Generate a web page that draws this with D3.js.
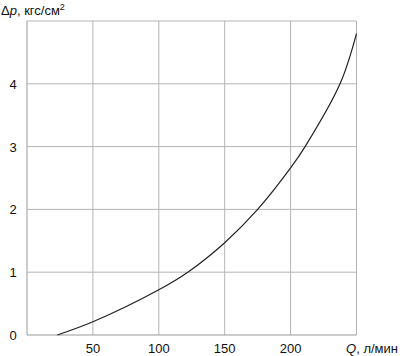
<!DOCTYPE html>
<html>
<head>
<meta charset="utf-8">
<script src="https://cdn.jsdelivr.net/npm/d3@7"></script>
<style>
  body { margin: 0; background: #fff; }
  svg text { font-family: "Liberation Sans", Arial, sans-serif; fill: #111; }
</style>
</head>
<body>
<svg id="chart" width="400" height="356"></svg>
<script>
// values
const flowQ = [23, 50, 100, 122, 150, 175, 200, 211, 237.5, 250];
const pressureDrop = [0, 0.21, 0.72, 1, 1.47, 2, 2.66, 3, 4, 4.8];
const xTicks = [50, 100, 150, 200];
const yTicks = [0, 1, 2, 3, 4];
const xGrid = [0, 50, 100, 150, 200, 250];
const yGrid = [0, 1, 2, 3, 4, 5];

const svg = d3.select('#chart');

const x = d3.scaleLinear()
    .domain([0, 250])
    .range([27, 356.5]);

const y = d3.scaleLinear()
    .domain([0, 5])
    .range([335, 21]);

// grid
svg.append('g')
    .selectAll('line')
    .data(xGrid).enter()
    .append('line')
    .attr('x1', d => x(d)).attr('x2', d => x(d))
    .attr('y1', y(0)).attr('y2', y(5))
    .attr('stroke', d => d === 0 ? '#999' : '#b4b4b4')
    .attr('stroke-width', 1);

svg.append('g')
    .selectAll('line')
    .data(yGrid).enter()
    .append('line')
    .attr('x1', x(0)).attr('x2', x(250))
    .attr('y1', d => y(d)).attr('y2', d => y(d))
    .attr('stroke', d => d === 0 ? '#999' : '#b4b4b4')
    .attr('stroke-width', 1);

// tick labels
svg.append('g')
    .selectAll('text')
    .data(xTicks).enter()
    .append('text')
    .attr('x', d => x(d))
    .attr('y', 353)
    .attr('text-anchor', 'middle')
    .attr('font-size', 13)
    .text(d => d);

svg.append('g')
    .selectAll('text')
    .data(yTicks).enter()
    .append('text')
    .attr('x', 13)
    .attr('y', d => y(d) + 5)
    .attr('text-anchor', 'middle')
    .attr('font-size', 13)
    .text(d => d);

// curve
const line = d3.line()
    .x(d => x(d[0]))
    .y(d => y(d[1]))
    .curve(d3.curveCatmullRom.alpha(0.5));

svg.append('path')
    .datum(flowQ.map((q, i) => [q, pressureDrop[i]]))
    .attr('d', line)
    .attr('fill', 'none')
    .attr('stroke', '#222')
    .attr('stroke-width', 1.2);

// axis titles
const xt = svg.append('text')
    .attr('x', 398)
    .attr('y', 353)
    .attr('text-anchor', 'end')
    .attr('font-size', 13);
xt.append('tspan').attr('font-style', 'italic').text('Q');
xt.append('tspan').text(', л/мин');

const yt = svg.append('text')
    .attr('x', 1)
    .attr('y', 15)
    .attr('font-size', 13);
yt.append('tspan').text('Δ');
yt.append('tspan').attr('font-style', 'italic').text('p');
yt.append('tspan').text(', кгс/см');
yt.append('tspan').attr('font-size', 9).attr('dy', -5).text('2');
</script>
</body>
</html>
